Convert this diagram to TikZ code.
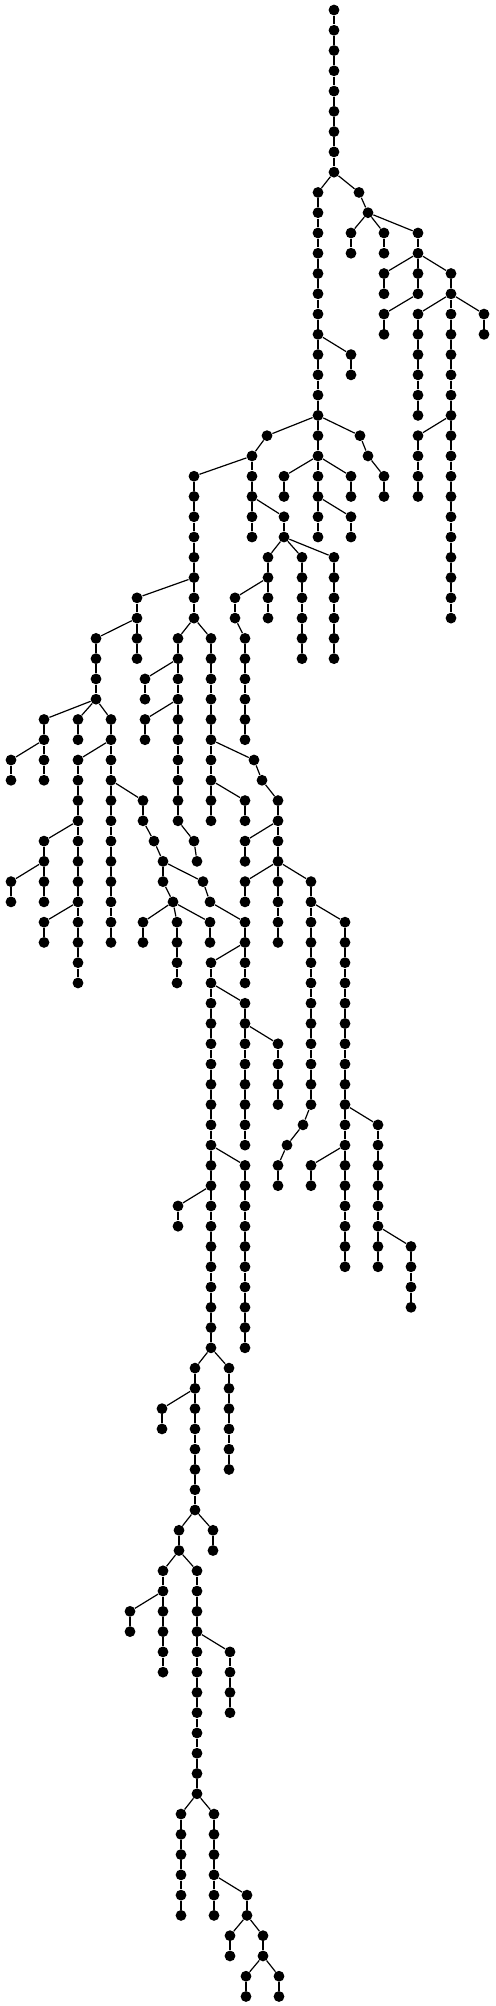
\documentclass[tikz,border=0pt]{standalone}
\usepackage{xcolor}

% vertical runs of the tree: column x / first level / last level
\def\treeruns{334/0/8, 318/9/26, 351/17/18, 359/9/9, 368/10/10, 351/11/12, 384/11/12,
  418/11/14, 384/13/14, 384/15/16, 451/13/30, 418/15/20, 484/15/16, 418/21/24,
  360/21/21, 368/22/22, 384/23/24, 267/21/21, 252/22/26, 284/23/24, 351/23/24,
  351/25/26, 194/23/30, 137/29/32, 96/31/34, 178/31/40, 145/33/34, 145/35/36,
  194/41/41, 197/42/42, 211/31/40, 245/39/40, 254/37/37, 262/38/38, 278/39/46,
  245/41/42, 245/43/44, 311/43/54, 303/55/55, 287/56/56, 278/57/58, 345/45/62,
  311/57/58, 378/55/62, 411/61/64, 44/35/38, 11/37/38, 78/35/36, 111/35/46,
  78/37/48, 44/41/44, 11/43/44, 44/45/46, 143/39/40, 154/41/41, 163/42/43,
  173/44/44, 143/45/46, 177/45/48, 210/45/46, 203/43/43, 210/44/44, 245/45/48,
  211/47/66, 245/49/56, 278/51/54, 245/57/66, 178/59/60, 195/67/74, 162/69/70,
  229/67/72, 213/75/76, 179/75/76, 163/77/82, 130/79/80, 197/77/88, 230/81/84,
  181/89/94, 214/89/94, 247/93/94, 230/95/96, 263/95/96, 246/97/98, 279/97/98,
  284/25/26, 268/27/30, 235/29/30, 245/31/36, 302/27/32, 334/27/32}

% branch edges: parent / child
\def\treeforks{334-8/318-9, 334-8/359-9, 359-9/368-10, 368-10/351-11, 368-10/384-11,
  368-10/418-11, 418-12/384-13, 418-12/451-13, 418-14/384-15, 451-14/418-15,
  451-14/484-15, 451-20/418-21, 318-16/351-17, 318-20/267-21, 318-20/360-21,
  360-21/368-22, 368-22/384-23, 318-22/284-23, 318-22/351-23, 318-24/351-25,
  267-21/252-22, 252-22/194-23, 252-24/284-25, 284-26/268-27, 284-26/302-27,
  284-26/334-27, 268-28/235-29, 235-30/245-31, 194-28/137-29, 194-30/178-31,
  194-30/211-31, 137-30/96-31, 178-32/145-33, 178-34/145-35, 178-40/194-41,
  194-41/197-42, 96-34/44-35, 96-34/78-35, 96-34/111-35, 44-36/11-37,
  111-36/78-37, 111-38/143-39, 78-40/44-41, 44-42/11-43, 78-44/44-45,
  143-40/154-41, 154-41/163-42, 163-42/203-43, 163-43/173-44, 173-44/143-45,
  173-44/177-45, 173-44/210-45, 203-43/210-44, 210-44/245-45, 245-46/211-47,
  211-48/245-49, 245-50/278-51, 211-56/245-57, 211-58/178-59, 211-66/195-67,
  211-66/229-67, 195-68/162-69, 195-74/179-75, 195-74/213-75, 179-76/163-77,
  179-76/197-77, 163-78/130-79, 197-80/230-81, 197-88/181-89, 197-88/214-89,
  214-92/247-93, 247-94/230-95, 247-94/263-95, 263-96/246-97, 263-96/279-97,
  211-36/254-37, 254-37/262-38, 262-38/278-39, 211-38/245-39, 278-40/245-41,
  278-42/245-43, 278-42/311-43, 311-44/345-45, 311-54/303-55, 303-55/287-56,
  287-56/278-57, 345-54/378-55, 345-56/311-57, 378-60/411-61}

\begin{document}
\begin{tikzpicture}[x=0.5pt, y=-10.135pt,
    dot/.style={circle, fill=black, inner sep=0pt, minimum size=5.4pt},
    link/.style={line width=0.6pt}]
  \useasboundingbox (0,-0.4933) rectangle (495,98.47);
  % draw the vertical runs
  \foreach \x/\a/\b in \treeruns {
    \foreach \k in {\a,...,\b} {
      \node[dot] (v\x-\k) at (\x,\k) {};
      \ifnum\k>\a \pgfmathtruncatemacro{\j}{\k-1}\draw[link] (v\x-\j) -- (v\x-\k);\fi
    }
  }
  % draw the forks
  \foreach \p/\q in \treeforks \draw[link] (v\p) -- (v\q);
\end{tikzpicture}
\end{document}
